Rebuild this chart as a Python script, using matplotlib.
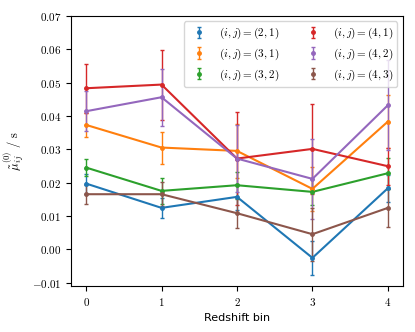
import matplotlib
matplotlib.use("Agg")
import matplotlib.pyplot as plt
from matplotlib.ticker import FuncFormatter

plt.rcParams['mathtext.fontset'] = 'cm'
plt.rcParams['font.size'] = 8

bins = [0, 1, 2, 3, 4]
labels = ['(2,1)', '(3,1)', '(3,2)', '(4,1)', '(4,2)', '(4,3)']
colors = ['tab:blue', 'tab:orange', 'tab:green', 'tab:red', 'tab:purple', 'tab:brown']

mu_21 = [0.0197, 0.0124, 0.0157, -0.0026, 0.0183]
mu_31 = [0.0373, 0.0305, 0.0295, 0.0181, 0.0383]
mu_32 = [0.0245, 0.0175, 0.0192, 0.0172, 0.0228]
mu_41 = [0.0483, 0.0494, 0.0272, 0.0301, 0.0249]
mu_42 = [0.0414, 0.0456, 0.0272, 0.0211, 0.0432]
mu_43 = [0.0165, 0.0165, 0.0108, 0.0045, 0.0124]

err_21 = [0.0030, 0.0030, 0.0040, 0.0050, 0.0040]
err_31 = [0.0036, 0.0048, 0.0080, 0.0065, 0.0080]
err_32 = [0.0026, 0.0040, 0.0040, 0.0040, 0.0047]
err_41 = [0.0073, 0.0105, 0.0140, 0.0135, 0.0055]
err_42 = [0.0060, 0.0085, 0.0100, 0.0120, 0.0135]
err_43 = [0.0028, 0.0036, 0.0045, 0.0080, 0.0056]

values = [mu_21, mu_31, mu_32, mu_41, mu_42, mu_43]
errors = [err_21, err_31, err_32, err_41, err_42, err_43]

fig = plt.figure(figsize=(4.15, 3.32), dpi=100)
ax = fig.add_axes([0.171, 0.139, 0.8, 0.813])

for lab, col, v, e in zip(labels, colors, values, errors):
    ax.errorbar(bins, v, yerr=e, color=col, fmt='o', markersize=2.5,
                elinewidth=1, capsize=1.5,
                label=r'$(i,j) = ' + lab + '$')
    ax.plot(bins, v, color=col, linewidth=1.5)

ax.set_xlim(-0.2, 4.2)
ax.set_ylim(-0.011, 0.07)
ax.set_xticks(bins)
ax.set_yticks([-0.01, 0.0, 0.01, 0.02, 0.03, 0.04, 0.05, 0.06, 0.07])
ax.xaxis.set_major_formatter(FuncFormatter(lambda x, p: r'$%d$' % x))
ax.yaxis.set_major_formatter(FuncFormatter(lambda y, p: r'$%.2f$' % y))

ax.set_xlabel('Redshift bin', fontsize=8)
ax.set_ylabel(r'$\tilde{\mu}_{ij}^{(0)}\ /\ \mathrm{s}$', fontsize=9)

ax.legend(ncol=2, loc='upper right', fontsize=8)

fig.savefig('out.png', dpi=100)
